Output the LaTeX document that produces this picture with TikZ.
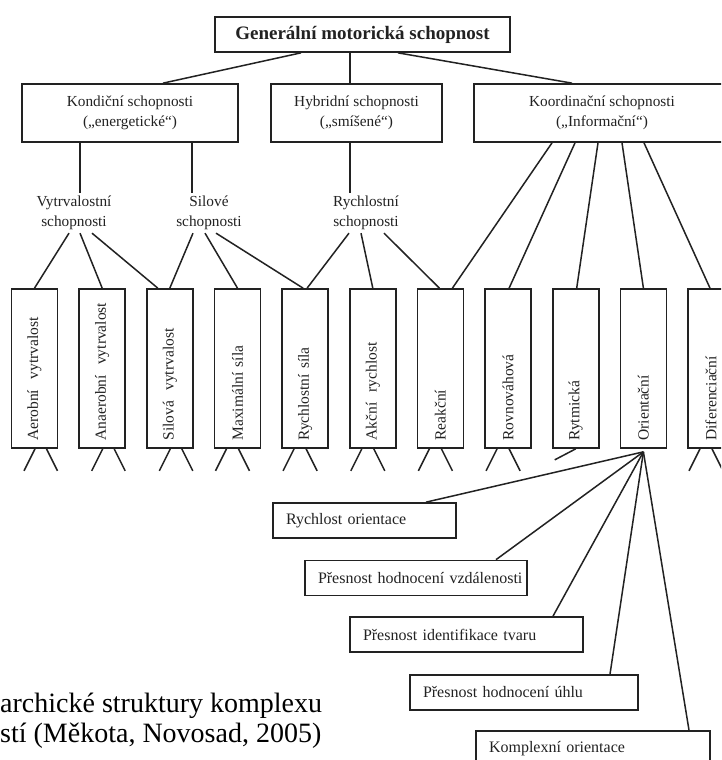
\documentclass[tikz,border=0pt]{standalone}
\usepackage{fontspec}
\setmainfont{Liberation Serif}
\usetikzlibrary{calc}
\definecolor{ink}{HTML}{222222}
\begin{document}
\begin{tikzpicture}[x=1pt,y=-1pt,
  ln/.style={draw=ink,line width=1.5pt},
  box/.style={draw=ink,line width=1.7pt,rectangle,inner sep=0pt,text=ink},
  lvltwo/.style={box,minimum height=58pt,align=center,font=\fontsize{15.3}{20}\selectfont},
  midlabel/.style={align=center,inner sep=3pt,text=ink,font=\fontsize{15.3}{20}\selectfont},
  vbox/.style={box,rotate=90,minimum height=46pt,text width=144pt,align=left,inner xsep=7.5pt,font=\fontsize{15.5}{18}\selectfont},
  bbox/.style={box,minimum height=35pt,align=left,inner xsep=13pt,font=\fontsize{16}{18}\selectfont},
  captext/.style={anchor=base west,inner sep=0pt,text=black,font=\fontsize{28}{30}\selectfont}]
\fill[white] (0,0) rectangle (721,760);
\useasboundingbox (0,0) rectangle (721,760);
\clip (0,0) rectangle (721,760);

% top
\node[box,minimum width=295pt,minimum height=35pt,font=\fontsize{19}{22}\selectfont\bfseries] (gen) at (362.5,34.5) {Generální motorická schopnost};

% level 2
\node[lvltwo,minimum width=216pt] (kond) at (130,113) {Kondiční schopnosti\\(„energetické“)};
\node[lvltwo,minimum width=171pt] (hyb) at (356.5,113) {Hybridní schopnosti\\(„smíšené“)};
\node[lvltwo,minimum width=256pt] (koord) at (602,113) {Koordinační schopnosti\\(„Informační“)};

% middle labels
\node[midlabel] (vytr) at (74,213) {Vytrvalostní\\schopnosti};
\node[midlabel] (sil) at (209,213) {Silové\\schopnosti};
\node[midlabel] (rych) at (366,213) {Rychlostní\\schopnosti};

% vertical boxes
\node[vbox] (aer)  at (34.5,368.5)  {Aerobní~ vytrvalost};
\node[vbox] (ana)  at (102.2,368.5) {Anaerobní~ vytrvalost};
\node[vbox] (silv) at (169.8,368.5) {Silová~ vytrvalost};
\node[vbox] (maxs) at (237.5,368.5) {Maximální síla};
\node[vbox] (rs)   at (305.1,368.5) {Rychlostní síla};
\node[vbox] (ak)   at (372.8,368.5) {Akční~ rychlost};
\node[vbox] (reak) at (440.4,368.5) {Reakční};
\node[vbox] (rovn) at (508.1,368.5) {Rovnováhová};
\node[vbox] (ryt)  at (575.7,368.5) {Rytmická};
\node[vbox] (ori)  at (643.4,368.5) {Orientační};
\node[vbox] (dif)  at (711.0,368.5) {Diferenciační};

% bottom boxes
\node[bbox,text width=157pt] (ro)  at (364.5,520.5) {Rychlost orientace};
\node[bbox,text width=196pt] (pv)  at (416,578)   {\mbox{Přesnost hodnocení vzdálenosti}};
\node[bbox,text width=207pt] (pit) at (466.5,634.5) {Přesnost identifikace tvaru};
\node[bbox,text width=202pt] (phu) at (524,692.5) {Přesnost hodnocení úhlu};
\node[bbox,text width=208pt] (ko)  at (593,748.5) {Komplexní orientace};

% caption
\node[captext] (cap1) at (0,712) {archické struktury komplexu};
\node[captext] (cap2) at (0,742) {stí (Měkota, Novosad, 2005)};

% connectors top -> level 2
\draw[ln] ([xshift=-61.5pt]gen.south) -- ([xshift=33pt]kond.north);
\draw[ln] ([xshift=-12.5pt]gen.south) -- ([xshift=-6.5pt]hyb.north);
\draw[ln] ([xshift=35.5pt]gen.south) -- ([xshift=-30pt]koord.north);

% level 2 -> middle labels
\draw[ln] ([xshift=-50pt]kond.south) -- ([xshift=6pt]vytr.north);
\draw[ln] ([xshift=62pt]kond.south) -- ([xshift=-17pt]sil.north);
\draw[ln] ([xshift=-6.5pt]hyb.south) -- ([xshift=-16pt]rych.north);

% middle labels -> vertical boxes
\draw[ln] ([xshift=-5pt]vytr.south) -- (aer.east);
\draw[ln] ([xshift=6pt]vytr.south) -- (ana.east);
\draw[ln] ([xshift=18pt]vytr.south) -- ([xshift=-12pt]silv.east);
\draw[ln] ([xshift=-16pt]sil.south) -- (silv.east);
\draw[ln] ([xshift=-4pt]sil.south) -- (maxs.east);
\draw[ln] ([xshift=7pt]sil.south) -- ([xshift=-2pt]rs.east);
\draw[ln] ([xshift=-17pt]rych.south) -- ([xshift=2pt]rs.east);
\draw[ln] ([xshift=-5pt]rych.south) -- (ak.east);
\draw[ln] ([xshift=18pt]rych.south) -- ([xshift=-1pt]reak.east);

% koordinacni -> vertical boxes
\draw[ln] ([xshift=-50pt]koord.south) -- ([xshift=12pt]reak.east);
\draw[ln] ([xshift=-27pt]koord.south) -- ([xshift=1pt]rovn.east);
\draw[ln] ([xshift=-4pt]koord.south) -- ([xshift=1pt]ryt.east);
\draw[ln] ([xshift=20pt]koord.south) -- (ori.east);
\draw[ln] ([xshift=42pt]koord.south) -- ([xshift=-1pt]dif.east);

% legs
\foreach \n in {aer,ana,silv}{
  \draw[ln] ([xshift=0.5pt]\n.west) -- ++(-11,22);
  \draw[ln] ([xshift=12pt]\n.west) -- ++(11,22);
}
\foreach \n in {maxs,rs,ak,reak,rovn,dif}{
  \draw[ln] ([xshift=-11pt]\n.west) -- ++(-11,22);
  \draw[ln] ([xshift=1pt]\n.west) -- ++(11,22);
}
\draw[ln] (ryt.west) -- ++(-21,11);

% fan from Orientacni
\draw[ln] ([yshift=-3pt]ori.west) -- ([xshift=61.5pt]ro.north);
\draw[ln] ([yshift=-3pt]ori.west) -- ([xshift=80pt]pv.north);
\draw[ln] ([yshift=-3pt]ori.west) -- ([xshift=86.5pt]pit.north);
\draw[ln] ([yshift=-3pt]ori.west) -- ([xshift=86pt]phu.north);
\draw[ln] ([yshift=-3pt]ori.west) -- ([xshift=96pt]ko.north);
\end{tikzpicture}
\end{document}
